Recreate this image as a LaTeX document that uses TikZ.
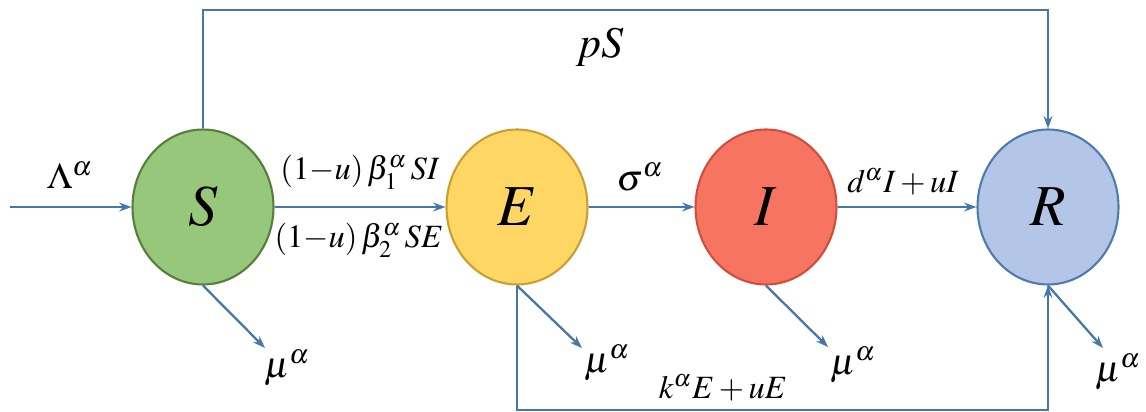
\documentclass[tikz,border=0pt]{standalone}
\usepackage{amsmath, amssymb}
\usepackage{mathptmx}
\usepackage{tikz}
\usetikzlibrary{arrows.meta, positioning, shapes.geometric}

\definecolor{lineblue}{HTML}{4477AA}
\definecolor{sfill}{HTML}{96C77B}
\definecolor{sdraw}{HTML}{557F3A}
\definecolor{efill}{HTML}{FDD663}
\definecolor{edraw}{HTML}{C9A030}
\definecolor{ifill}{HTML}{F67460}
\definecolor{idraw}{HTML}{D04E3C}
\definecolor{rfill}{HTML}{B4C6E7}
\definecolor{rdraw}{HTML}{4E7BAE}

\tikzset{
  compartment/.style={ellipse, minimum width=2.82cm, minimum height=3.1cm,
    line width=1.2pt, inner sep=0pt, font=\fontsize{33}{38}\selectfont},
  flow/.style={draw=lineblue, line width=1.3pt, -{Stealth[length=7pt, width=5pt]}},
  rate/.style={font=\fontsize{18.5}{22}\selectfont},
  biglabel/.style={font=\fontsize{21}{25}\selectfont}
}

\begin{document}
\begin{tikzpicture}[x=0.02cm, y=-0.02cm]
  \useasboundingbox (0,0) rectangle (1146,412);
  %--- compartments ---
  \node[compartment, fill=sfill, draw=sdraw] (S) at (203,207) {$S$};
  \node[compartment, fill=efill, draw=edraw] (E) at (517,207) {$E$};
  \node[compartment, fill=ifill, draw=idraw] (I) at (766,207) {$I$};
  \node[compartment, fill=rfill, draw=rdraw] (R) at (1048,207) {$R$};
  %--- helper points ---
  \coordinate (in) at (10,207);
  \coordinate (top) at (0,10);
  \coordinate (bot) at (0,410);
  \coordinate (dS) at (265,348);
  \coordinate (dE) at (582,348);
  \coordinate (dI) at (828,347);
  \coordinate (dR) at (1103,348);
  %--- main chain ---
  \draw[flow] (in) -- (S);
  \draw[flow] (S) -- (E);
  \draw[flow] (E) -- (I);
  \draw[flow] (I) -- (R);
  % vaccination S -> R
  \draw[flow] (S.north) |- (R.north |- top) -- (R.north);
  % treatment E -> R
  \draw[flow] (E.south) |- (R.south |- bot) -- (R.south);
  % deaths
  \draw[flow] (S.south) -- (dS);
  \draw[flow] (E.south) -- (dE);
  \draw[flow] (I.south) -- (dI);
  \draw[flow] (R.south) -- (dR);
  %--- labels ---
  \node[biglabel] (lam) at (70,175) {$\Lambda^{\alpha}$};
  \node[font=\fontsize{25}{30}\selectfont] (pS) at (600,47) {$pS$};
  \node[rate] (inf1) at (360,172) {$(1{-}u)\,\beta_1^{\alpha}\,SI$};
  \node[rate] (inf2) at (359,240) {$(1{-}u)\,\beta_2^{\alpha}\,SE$};
  \node[biglabel] (sig) at (640,177) {$\sigma^{\alpha}$};
  \node[rate] (rec) at (903,182) {$d^{\alpha}I+uI$};
  \node[rate] (tr) at (723,388) {$k^{\alpha}E+uE$};
  \node[biglabel] (mS) at (287,368) {$\mu^{\alpha}$};
  \node[biglabel] (mE) at (607,363) {$\mu^{\alpha}$};
  \node[biglabel] (mI) at (853,365) {$\mu^{\alpha}$};
  \node[biglabel] (mR) at (1118,372) {$\mu^{\alpha}$};
\end{tikzpicture}
\end{document}
